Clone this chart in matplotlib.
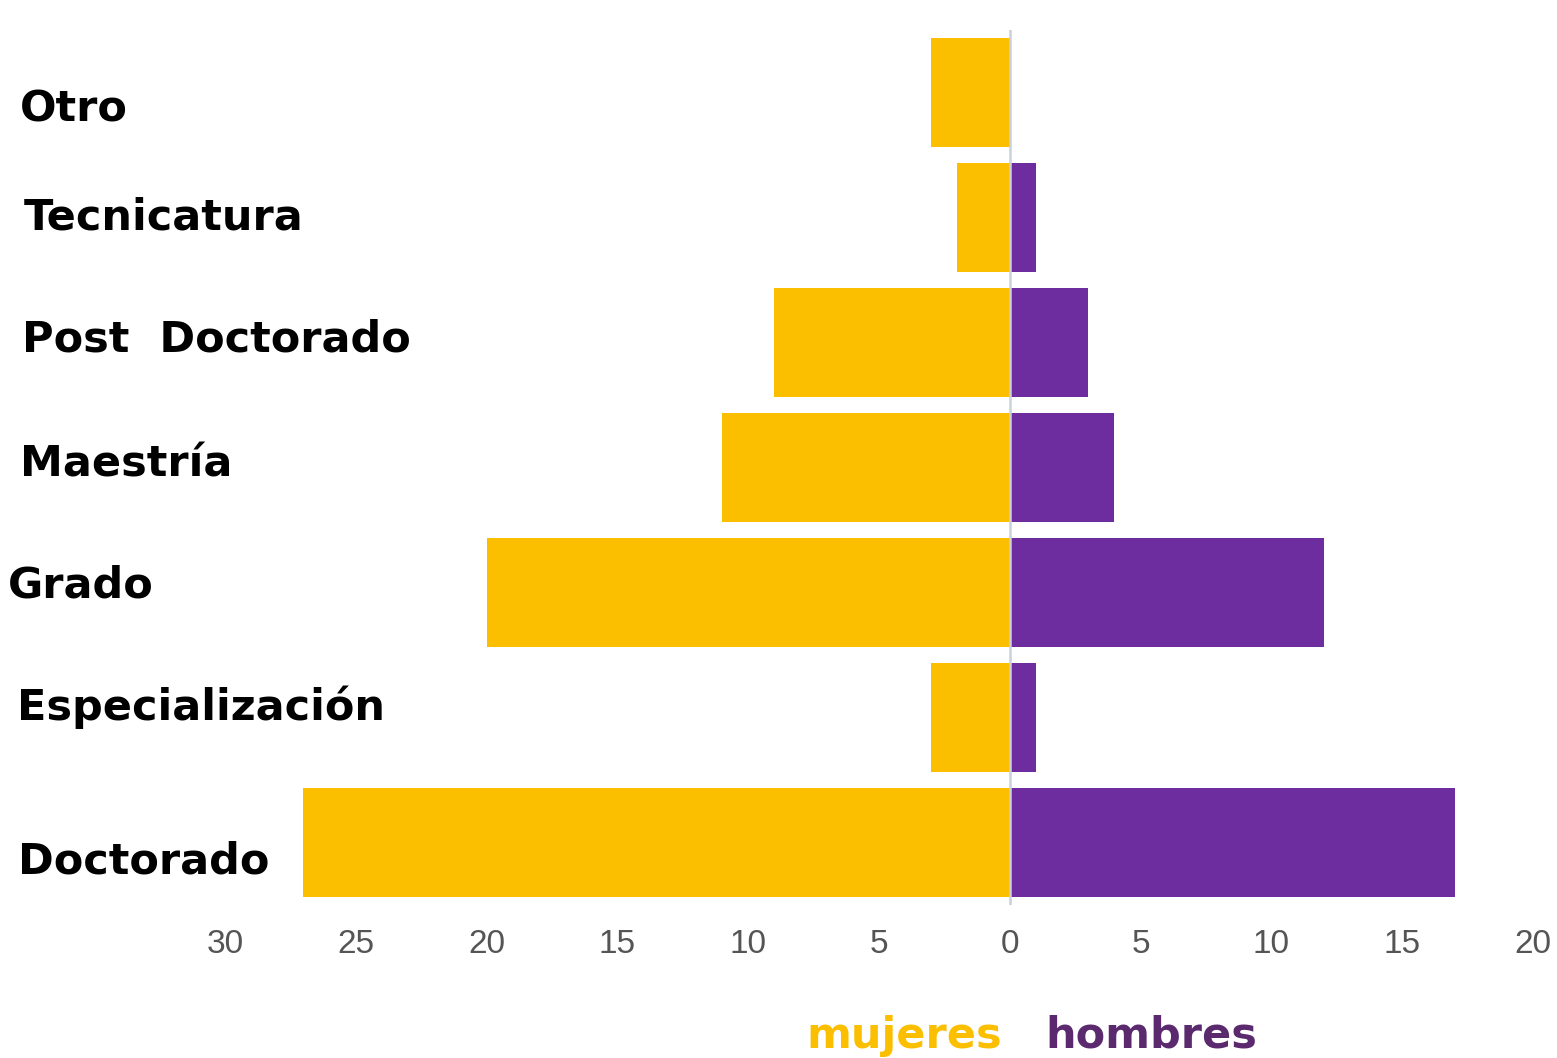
import matplotlib
matplotlib.use("Agg")
import matplotlib.pyplot as plt
import numpy as np

categories = ["Doctorado", "Especialización", "Grado", "Maestría",
              "Post  Doctorado", "Tecnicatura", "Otro"]
mujeres = [27, 3, 20, 11, 9, 2, 3]
hombres = [17, 1, 12, 4, 3, 1, 0]
xticks = [-30, -25, -20, -15, -10, -5, 0, 5, 10, 15, 20]
xticklabels = ["30", "25", "20", "15", "10", "5", "0", "5", "10", "15", "20"]

W, H = 1557, 1058
fig = plt.figure(figsize=(W / 100, H / 100), dpi=100)
ax = fig.add_axes([225 / W, 1 - 905 / H, (1533 - 225) / W, (905 - 30) / H])

y = np.arange(len(categories))
yellow = "#FBBF00"
purple = "#6E2D9E"
ax.barh(y, [-v for v in mujeres], height=0.87, color=yellow, zorder=2)
ax.barh(y, hombres, height=0.87, color=purple, zorder=2)
ax.axvline(0, color="#C9D1DC", lw=1.8, zorder=3)

ax.set_xlim(-30, 20)
ax.set_ylim(-0.5, len(categories) - 0.5)
ax.set_yticks([])
ax.set_xticks(xticks)
ax.set_xticklabels(xticklabels, fontsize=24, color="#555555",
                   family=["Liberation Sans Narrow", "Liberation Sans"])
ax.tick_params(axis="x", length=0, pad=17)
for s in ax.spines.values():
    s.set_visible(False)

# category labels (layout in figure pixels)
label_x = [18, 17, 8, 20, 22, 24, 20]
label_base = [873, 720, 597, 476, 351, 229, 121]
for name, lx, lb in zip(categories, label_x, label_base):
    fig.text(lx / W, 1 - lb / H, name, fontsize=31, fontweight="bold",
             family="DejaVu Sans", color="black", va="baseline", ha="left")

fig.text(806 / W, 1 - 1048 / H, "mujeres", fontsize=31, fontweight="bold",
         family="DejaVu Sans", color=yellow, va="baseline", ha="left")
fig.text(1045 / W, 1 - 1048 / H, "hombres", fontsize=31, fontweight="bold",
         family="DejaVu Sans", color="#5B2A6E", va="baseline", ha="left")

fig.savefig("out.png", dpi=100, facecolor="white")
